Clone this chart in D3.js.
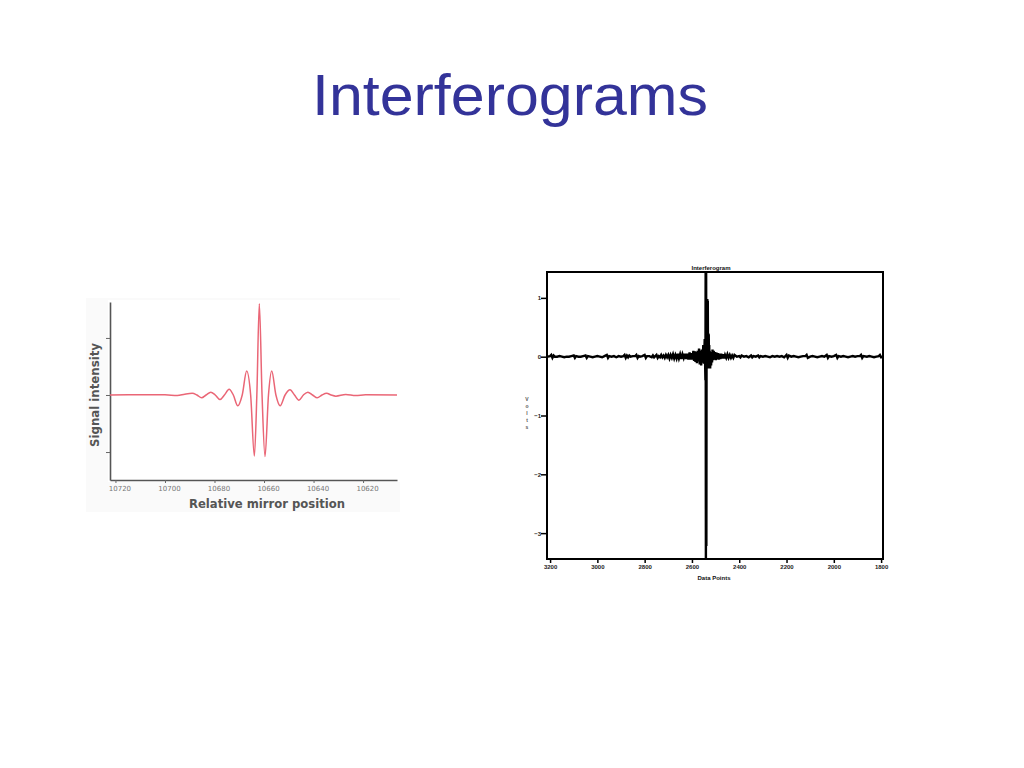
<!DOCTYPE html>
<html>
<head>
<meta charset="utf-8">
<script src="https://cdn.jsdelivr.net/npm/d3@7"></script>
<style>
  html, body { margin: 0; padding: 0; background: #ffffff; }
  svg { display: block; }
</style>
</head>
<body>
<svg id="chart" width="1024" height="768"></svg>
<script>
// ---------------- DATA ----------------
const pageTitle = "Interferograms";

// Left chart: relative mirror position vs signal intensity
const leftPos = [10722.2, 10700, 10695, 10692, 10689.0, 10687.1, 10685.2, 10683.4, 10681.5, 10679.7,
  10677.8, 10676.0, 10674.1, 10672.4, 10670.6, 10668.8, 10667.0, 10665.4, 10663.9, 10662.9,
  10661.9, 10660.8, 10659.6, 10658.2, 10656.9, 10655.2, 10653.5, 10651.5, 10649.5, 10647.7,
  10645.9, 10644.1, 10642.3, 10640.4, 10638.5, 10636.6, 10634.7, 10632.9, 10631.0, 10627,
  10623, 10619, 10606.3];
const leftSignal = [0, 0.005, -0.01, 0.015, 0.03, 0, -0.05, 0, 0.05, 0,
  -0.08, 0, 0.10, 0, -0.19, 0, 0.42, 0, -1.07, 0,
  1.60, 0, -1.08, 0, 0.42, 0, -0.19, 0, 0.09, 0,
  -0.09, 0, 0.05, 0, -0.05, 0, 0.03, 0, -0.02, 0.01,
  -0.01, 0.005, 0];
const leftTicks = [10720, 10700, 10680, 10660, 10640, 10620];
const leftYTicks = [1, 0, -1];
const leftXLabel = "Relative mirror position";
const leftYLabel = "Signal intensity";

// Right chart: data points vs volts
const rightPos = [3210, 3200, 3195, 3190, 3185, 3180, 3170, 3160, 3150, 3140, 3130, 3120, 3110, 3100, 3095, 3090,
  3080, 3070, 3060, 3050, 3045, 3040, 3030, 3020, 3010, 3000, 2990, 2980, 2970, 2960, 2955, 2950,
  2940, 2930, 2920, 2910, 2900, 2890, 2885, 2880, 2875, 2870, 2865, 2860, 2850, 2840, 2835, 2830,
  2825, 2820, 2810, 2800, 2795, 2790, 2780, 2770, 2765, 2760, 2750, 2745, 2740, 2735, 2730, 2725,
  2720, 2715, 2710, 2705, 2700, 2695, 2690, 2685, 2680, 2675, 2670, 2665, 2660, 2655, 2650, 2645,
  2640, 2635, 2630, 2625, 2620, 2615, 2610, 2605, 2600, 2597, 2594, 2591, 2588, 2585, 2582, 2579,
  2576, 2573, 2570, 2567, 2564, 2561, 2558, 2555, 2552, 2549, 2546, 2543, 2542, 2541, 2540, 2539,
  2538, 2537, 2536, 2535, 2534, 2533, 2532, 2531, 2530, 2529, 2528, 2527, 2526, 2525, 2523, 2521,
  2519, 2517, 2515, 2513, 2511, 2508, 2505, 2502, 2499, 2496, 2493, 2490, 2487, 2484, 2480, 2476,
  2472, 2468, 2464, 2460, 2455, 2450, 2445, 2440, 2435, 2430, 2425, 2420, 2410, 2400, 2395, 2390,
  2380, 2370, 2360, 2350, 2345, 2340, 2330, 2320, 2315, 2310, 2300, 2290, 2280, 2270, 2260, 2250,
  2240, 2230, 2220, 2210, 2200, 2195, 2190, 2180, 2170, 2160, 2150, 2140, 2130, 2120, 2115, 2110,
  2100, 2090, 2080, 2070, 2060, 2050, 2040, 2030, 2025, 2020, 2010, 2000, 1990, 1985, 1980, 1970,
  1960, 1950, 1940, 1930, 1920, 1910, 1900, 1890, 1885, 1880, 1875, 1860, 1850, 1840, 1830, 1820,
  1810, 1805, 1800, 1792];
const rightVolts = [0, 0.01, 0.03, -0.02, 0.02, 0, 0, 0.01, 0, -0.01, 0, 0, 0.01, 0.02, -0.02, 0.01,
  0, 0, 0.01, 0.02, -0.02, 0.01, 0, -0.01, 0, 0.01, 0, -0.01, 0.01, 0.03, -0.02, 0.01,
  0, 0.01, -0.01, 0.01, 0, 0.01, 0.03, -0.02, 0.02, -0.01, 0.02, 0, 0.01, 0.01, 0.03, -0.02,
  0.01, 0, 0.01, 0.03, -0.02, 0.01, 0.01, -0.01, 0.02, -0.01, 0.03, -0.02, 0.01, -0.01, 0.03, -0.01,
  0.02, -0.02, 0.03, -0.01, 0.03, -0.03, 0.03, -0.02, 0.04, -0.03, 0.03, -0.03, 0.05, -0.03, 0.04, -0.04,
  0.04, -0.02, 0.05, -0.04, 0.05, -0.05, 0.07, -0.05, 0.06, -0.05, 0.10, -0.07, 0.09, -0.09, 0.08, -0.11,
  0.10, -0.08, 0.14, -0.13, 0.10, -0.15, 0.12, -0.10, 0.20, -0.12, 0.30, -0.40, 1.60, -3.60, 1.60, -3.22,
  0.90, 0.98, 0.20, 0.98, 0.30, 0.95, -0.10, 0.40, -0.20, 0.38, -0.15, 0.20, -0.18, 0.10, -0.20, 0.05,
  -0.15, 0.08, -0.10, 0.12, -0.06, 0.10, -0.05, 0.08, -0.06, 0.07, -0.04, 0.06, -0.05, 0.05, -0.04, 0.05,
  -0.03, 0.04, -0.03, 0.03, -0.02, 0.04, -0.02, 0.03, -0.02, 0.02, -0.02, 0.03, 0, 0.01, -0.01, 0.02,
  0, 0.01, -0.01, 0.02, -0.01, 0.01, 0, 0.02, -0.01, 0.01, 0, 0.01, 0, -0.01, 0.01, 0,
  0.01, 0, 0.01, -0.01, 0.03, -0.02, 0.02, 0, 0.01, 0, -0.01, 0, 0.01, 0.01, 0.03, -0.02,
  0, 0.01, 0, -0.01, 0, 0.01, 0, 0.03, -0.02, 0.01, 0, 0.01, 0.03, -0.02, 0.01, 0,
  0.01, 0, -0.01, 0, 0.01, 0, 0.01, 0.01, 0.03, -0.02, 0.01, 0, 0.01, 0, -0.01, 0,
  0.01, 0.03, -0.01, 0];
const rightXTicks = [3200, 3000, 2800, 2600, 2400, 2200, 2000, 1800];
const rightYTicks = [1, 0, -1, -2, -3];
const rightTitle = "Interferogram";
const rightXLabel = "Data Points";
const rightYLabel = ["V", "o", "l", "t", "s"];

// ---------------- DRAW ----------------
const svg = d3.select("#chart");

// Page title
svg.append("text")
  .attr("x", 510).attr("y", 115)
  .attr("text-anchor", "middle")
  .attr("font-family", "Liberation Sans, Arial, sans-serif")
  .attr("font-size", 58)
  .attr("fill", "#333399")
  .attr("textLength", 396)
  .attr("lengthAdjust", "spacingAndGlyphs")
  .text(pageTitle);

// ---------- Left chart ----------
const L = svg.append("g");
L.append("rect").attr("x", 86).attr("y", 298).attr("width", 314).attr("height", 214).attr("fill", "#fafafa");
L.append("rect").attr("x", 108).attr("y", 300).attr("width", 292).attr("height", 182).attr("fill", "#ffffff");

const lx = d3.scaleLinear().domain([10722.2, 10606.3]).range([110, 397]);
const ly = d3.scaleLinear().domain([-1.49, 1.63]).range([480, 302]);

const lxAxis = L.append("g").attr("transform", "translate(0,480)")
  .call(d3.axisBottom(lx).tickValues(leftTicks).tickSize(3).tickSizeOuter(0).tickFormat(d3.format("d")));
lxAxis.select(".domain").attr("stroke", "#555").attr("stroke-width", 1.6);
lxAxis.selectAll(".tick line").attr("stroke", "#666").attr("stroke-width", 1);
lxAxis.selectAll(".tick text")
  .attr("font-family", "DejaVu Sans, Verdana, sans-serif")
  .attr("font-size", 7).attr("fill", "#777").attr("dy", "0.75em").attr("dx", 4);

const lyAxis = L.append("g").attr("transform", "translate(110,0)")
  .call(d3.axisLeft(ly).tickValues(leftYTicks).tickSize(4).tickSizeOuter(0).tickFormat(""));
lyAxis.select(".domain").attr("stroke", "#555").attr("stroke-width", 1.6);
lyAxis.selectAll(".tick line").attr("stroke", "#666").attr("stroke-width", 1);

const leftData = leftPos.map((p, i) => [p, leftSignal[i]]);
L.append("path")
  .datum(leftData)
  .attr("fill", "none")
  .attr("stroke", "#ea6676")
  .attr("stroke-width", 1.5)
  .attr("stroke-linejoin", "round")
  .attr("d", d3.line().x(d => lx(d[0])).y(d => ly(d[1])).curve(d3.curveMonotoneX));

L.append("text")
  .attr("x", 267).attr("y", 508)
  .attr("text-anchor", "middle")
  .attr("font-family", "DejaVu Sans, Verdana, sans-serif")
  .attr("font-size", 12).attr("font-weight", "bold").attr("fill", "#555")
  .attr("textLength", 156).attr("lengthAdjust", "spacingAndGlyphs")
  .text(leftXLabel);
L.append("text")
  .attr("transform", "translate(99,395) rotate(-90)")
  .attr("text-anchor", "middle")
  .attr("font-family", "DejaVu Sans, Verdana, sans-serif")
  .attr("font-size", 12).attr("font-weight", "bold").attr("fill", "#555")
  .attr("textLength", 104).attr("lengthAdjust", "spacingAndGlyphs")
  .text(leftYLabel);

// ---------- Right chart ----------
const R = svg.append("g");
const rx = d3.scaleLinear().domain([3213, 1792]).range([547, 883]);
const ry = d3.scaleLinear().domain([-3.44, 1.44]).range([559, 272]);

R.append("clipPath").attr("id", "rclip")
  .append("rect").attr("x", 547).attr("y", 272).attr("width", 336).attr("height", 287);

const rightData = rightPos.map((p, i) => [p, rightVolts[i]]);
R.append("path")
  .datum(rightData)
  .attr("clip-path", "url(#rclip)")
  .attr("fill", "none")
  .attr("stroke", "#000")
  .attr("stroke-width", 2.4)
  .attr("stroke-linejoin", "miter")
  .attr("d", d3.line().x(d => rx(d[0])).y(d => ry(d[1])));

R.append("rect")
  .attr("x", 547).attr("y", 272).attr("width", 336).attr("height", 287)
  .attr("fill", "none").attr("stroke", "#000").attr("stroke-width", 2);

const rxAxis = R.append("g").attr("transform", "translate(0,560)")
  .call(d3.axisBottom(rx).tickValues(rightXTicks).tickSize(3).tickSizeOuter(0).tickFormat(d3.format("d")));
rxAxis.select(".domain").remove();
rxAxis.selectAll(".tick line").attr("stroke", "#000").attr("stroke-width", 1.5);
rxAxis.selectAll(".tick text")
  .attr("font-family", "Liberation Sans, Arial, sans-serif")
  .attr("font-size", 6).attr("font-weight", "bold").attr("fill", "#222").attr("y", 5);

const ryAxis = R.append("g").attr("transform", "translate(546,0)")
  .call(d3.axisLeft(ry).tickValues(rightYTicks).tickSize(5).tickSizeOuter(0).tickFormat(d3.format("d")));
ryAxis.select(".domain").remove();
ryAxis.selectAll(".tick line").attr("stroke", "#000").attr("stroke-width", 1.5);
ryAxis.selectAll(".tick text")
  .attr("font-family", "Liberation Sans, Arial, sans-serif")
  .attr("font-size", 6).attr("font-weight", "bold").attr("fill", "#222").attr("x", -5);

R.append("text")
  .attr("x", 711).attr("y", 270)
  .attr("text-anchor", "middle")
  .attr("font-family", "Liberation Sans, Arial, sans-serif")
  .attr("font-size", 6).attr("font-weight", "bold").attr("fill", "#111")
  .text(rightTitle);
R.append("text")
  .attr("x", 714).attr("y", 580)
  .attr("text-anchor", "middle")
  .attr("font-family", "Liberation Sans, Arial, sans-serif")
  .attr("font-size", 6).attr("font-weight", "bold").attr("fill", "#111")
  .text(rightXLabel);
R.append("text")
  .attr("x", 527).attr("y", 401)
  .attr("text-anchor", "middle")
  .attr("font-family", "Liberation Sans, Arial, sans-serif")
  .attr("font-size", 5).attr("font-weight", "bold").attr("fill", "#555")
  .selectAll("tspan").data(rightYLabel).join("tspan")
  .attr("x", 527).attr("dy", (d, i) => i === 0 ? 0 : 7)
  .text(d => d);
</script>
</body>
</html>
